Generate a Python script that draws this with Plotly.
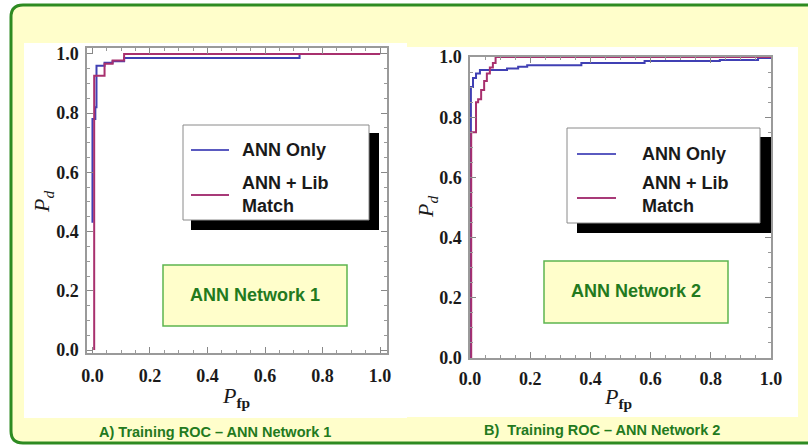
import plotly.graph_objects as go

# ---------------- data ----------------
# Network 1 (left panel)
n1_ann_fp = [0.0, 0.0, 0.010, 0.014, 0.042, 0.070, 0.110, 0.720, 1.0]
n1_ann_pd = [0.43, 0.78, 0.82, 0.960, 0.970, 0.975, 0.986, 1.000, 1.0]
n1_lib_fp = [0.006, 0.006, 0.042, 0.070, 0.110, 1.0]
n1_lib_pd = [0.0, 0.926, 0.967, 0.978, 1.000, 1.0]

# Network 2 (right panel)
n2_ann_fp = [0.003, 0.003, 0.010, 0.020, 0.033, 0.123, 0.160, 0.190, 0.370, 0.580, 0.830, 0.957, 1.0]
n2_ann_pd = [0.0, 0.900, 0.930, 0.945, 0.957, 0.962, 0.968, 0.973, 0.980, 0.987, 0.990, 0.997, 1.0]
n2_lib_fp = [0.004, 0.004, 0.020, 0.027, 0.037, 0.047, 0.056, 0.066, 0.076, 0.085, 1.0]
n2_lib_pd = [0.0, 0.750, 0.850, 0.860, 0.890, 0.920, 0.945, 0.965, 0.980, 1.000, 1.0]

series_names = ["ANN Only", "ANN + Lib<br>Match"]
panel_labels = ["ANN Network 1", "ANN Network 2"]
captions = ["A) Training ROC \u2013 ANN Network 1", "B)  Training ROC \u2013 ANN Network 2"]
tick_vals = [0.0, 0.2, 0.4, 0.6, 0.8, 1.0]
tick_text = ["0.0", "0.2", "0.4", "0.6", "0.8", "1.0"]

# ---------------- styling ----------------
W, H = 808, 447
BLUE = "#4040B4"
MAG = "#A8306E"
GREEN = "#2E8B22"
TXTGREEN = "#237A1E"
YELLOW = "#FFFECB"


def px(x):
    return x / W


def py(y):
    return 1 - y / H


fig = go.Figure()

fig.add_trace(go.Scatter(x=n1_ann_fp, y=n1_ann_pd, mode="lines", line=dict(color=BLUE, width=2, shape="hv"),
                         name=series_names[0], xaxis="x", yaxis="y"))
fig.add_trace(go.Scatter(x=n1_lib_fp, y=n1_lib_pd, mode="lines", line=dict(color=MAG, width=2, shape="hv"),
                         name=series_names[1], xaxis="x", yaxis="y"))
fig.add_trace(go.Scatter(x=n2_ann_fp, y=n2_ann_pd, mode="lines", line=dict(color=BLUE, width=2, shape="hv"),
                         name=series_names[0], xaxis="x2", yaxis="y2"))
fig.add_trace(go.Scatter(x=n2_lib_fp, y=n2_lib_pd, mode="lines", line=dict(color=MAG, width=2, shape="hv"),
                         name=series_names[1], xaxis="x2", yaxis="y2"))

tickfont = dict(family="Liberation Serif", size=18, color="#1a1a1a", weight="bold")


def axis_style(domain, rng, anchor):
    return dict(domain=domain, range=rng, anchor=anchor, showgrid=False, zeroline=False,
                automargin=False,
                showline=True, linecolor="#9a9a9a", linewidth=1.5, mirror="allticks",
                ticks="inside", ticklen=6, tickwidth=1, tickcolor="#888888",
                tickvals=tick_vals, ticktext=tick_text, tickfont=tickfont,
                minor=dict(ticks="inside", ticklen=3, dtick=0.05, tick0=0, tickcolor="#999999",
                           showgrid=False))


fig.update_layout(
    width=W, height=H, margin=dict(l=0, r=0, t=0, b=0, pad=0, autoexpand=False),
    paper_bgcolor="white", plot_bgcolor="white", showlegend=False,
    xaxis=dict(axis_style([px(87), px(387)], [-0.019, 1.024], "y"), ticklabelstandoff=6),
    yaxis=dict(axis_style([py(353), py(48)], [-0.01, 1.02], "x"), ticklabelstandoff=3),
    xaxis2=dict(axis_style([px(470), px(771)], [0, 1], "y2"), ticklabelstandoff=4),
    yaxis2=dict(axis_style([py(358), py(57)], [0, 1], "x2"), ticklabelstandoff=3),
)

shapes = []
# yellow rounded frame with green border
x0, y0, x1, y1, r = 11, 5, 840, 443, 12
path = (f"M {px(x0 + r)},{py(y0)} L {px(x1)},{py(y0)} L {px(x1)},{py(y1)} L {px(x0 + r)},{py(y1)} "
        f"Q {px(x0)},{py(y1)} {px(x0)},{py(y1 - r)} L {px(x0)},{py(y0 + r)} "
        f"Q {px(x0)},{py(y0)} {px(x0 + r)},{py(y0)} Z")
shapes.append(dict(type="path", xref="paper", yref="paper", path=path, fillcolor=YELLOW,
                   line=dict(color=GREEN, width=3), layer="below"))
# white panels
for (a, b, c, d) in [(24, 43, 407, 418), (407, 47, 798, 417)]:
    shapes.append(dict(type="rect", xref="paper", yref="paper", x0=px(a), x1=px(c), y0=py(d), y1=py(b),
                       fillcolor="white", line=dict(width=0), layer="below"))

# legends (shadow + white box + sample lines)
legends = [
    dict(box=(183, 125, 369, 220), shadow=(191, 133, 379, 230), lx=(191, 229), ly=(150, 195), tx=240, ty=(150, 194)),
    dict(box=(567, 128, 760, 223), shadow=(577, 137, 771, 233), lx=(577, 616), ly=(154, 198), tx=640, ty=(154, 194)),
]
for L in legends:
    a, b, c, d = L["shadow"]
    shapes.append(dict(type="rect", xref="paper", yref="paper", x0=px(a), x1=px(c), y0=py(d), y1=py(b),
                       fillcolor="black", line=dict(width=0), layer="above"))
    a, b, c, d = L["box"]
    shapes.append(dict(type="rect", xref="paper", yref="paper", x0=px(a), x1=px(c), y0=py(d), y1=py(b),
                       fillcolor="white", line=dict(color="#8a8a8a", width=1), layer="above"))
    for yy, col in zip(L["ly"], ["#5A5AC0", "#A83A78"]):
        shapes.append(dict(type="line", xref="paper", yref="paper", x0=px(L["lx"][0]), x1=px(L["lx"][1]),
                           y0=py(yy), y1=py(yy), line=dict(color=col, width=2), layer="above"))

# panel label boxes
for (a, b, c, d) in [(163, 265, 347, 326), (544, 261, 728, 323)]:
    shapes.append(dict(type="rect", xref="paper", yref="paper", x0=px(a), x1=px(c), y0=py(d), y1=py(b),
                       fillcolor=YELLOW, line=dict(color="#5DB54F", width=1.5), layer="above"))

fig.update_layout(shapes=shapes)

ann = []
legfont = dict(family="Liberation Sans", size=18, color="#1a1a1a", weight="bold")
for L in legends:
    ann.append(dict(x=px(L["tx"]), y=py(L["ty"][0]), text=series_names[0], xanchor="left", yanchor="middle",
                    showarrow=False, xref="paper", yref="paper", font=legfont, align="left"))
    ann.append(dict(x=px(L["tx"]), y=py(L["ty"][1]), text=series_names[1], xanchor="left", yanchor="middle",
                    showarrow=False, xref="paper", yref="paper", font=legfont, align="left"))

for (cx, cy), t in zip([(255, 295), (636, 291)], panel_labels):
    ann.append(dict(x=px(cx), y=py(cy), text=t, showarrow=False, xref="paper", yref="paper",
                    xanchor="center", yanchor="middle",
                    font=dict(family="Liberation Sans", size=18, color=TXTGREEN, weight="bold")))

for (cx, cy), t in zip([(215, 432), (602, 430)], captions):
    ann.append(dict(x=px(cx), y=py(cy), text=t, showarrow=False, xref="paper", yref="paper",
                    xanchor="center", yanchor="middle",
                    font=dict(family="Liberation Sans", size=14.5, color=TXTGREEN, weight="bold")))

xtitle = "<i>P</i><sub><b>fp</b></sub>"
ytitle = "<i>P</i><sub><i>d</i></sub>"
for (cx, cy) in [(236, 397), (618, 398)]:
    ann.append(dict(x=px(cx), y=py(cy), text=xtitle, showarrow=False, xref="paper", yref="paper",
                    xanchor="center", yanchor="middle",
                    font=dict(family="Liberation Serif", size=22, color="#1a1a1a")))
for (cx, cy) in [(43, 202), (427, 207)]:
    ann.append(dict(x=px(cx), y=py(cy), text=ytitle, showarrow=False, xref="paper", yref="paper",
                    xanchor="center", yanchor="middle", textangle=-90,
                    font=dict(family="Liberation Serif", size=22, color="#1a1a1a")))

fig.update_layout(annotations=ann)
fig.write_html("out.html", config={"displayModeBar": False},
               post_script="document.body.style.margin='0';document.body.style.overflow='hidden';")
